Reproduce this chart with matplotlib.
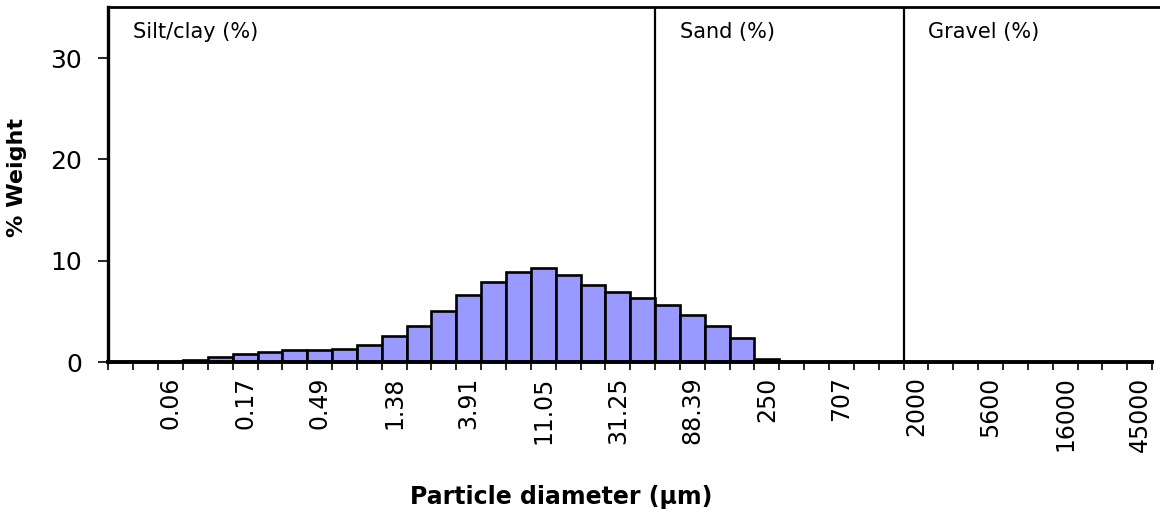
import numpy as np
import matplotlib
matplotlib.use('Agg')
import matplotlib.pyplot as plt
from matplotlib.ticker import FixedLocator, NullFormatter, FixedFormatter

# 粒径分布数据（每个柱子为半个phi区间）
weights = [0, 0, 0, 0.2, 0.5, 0.8, 1.0, 1.2, 1.2, 1.3,
           1.7, 2.6, 3.6, 5.1, 6.6, 7.9, 8.9, 9.3, 8.6, 7.6,
           6.9, 6.4, 5.7, 4.7, 3.6, 2.4, 0.35, 0, 0, 0,
           0.1, 0, 0, 0, 0, 0, 0, 0, 0, 0,
           0, 0]
size_labels = ['0.06', '0.17', '0.49', '1.38', '3.91', '11.05', '31.25',
               '88.39', '250', '707', '2000', '5600', '16000', '45000']
label_bins = [2, 5, 8, 11, 14, 17, 20, 23, 26, 29, 32, 35, 38, 41]
# 分区边界（柱子序号）
class_edges = [22, 32]
class_names = ['Silt/clay (%)', 'Sand (%)', 'Gravel (%)']
class_starts = [0, 22, 32]

plt.rcParams['font.family'] = ['DejaVu Sans']

fig = plt.figure(figsize=(11.6, 5.22), dpi=100)
ax = fig.add_axes([0.0935, 0.3056, 0.9065, 0.6805])

n = len(weights)
ax.bar(np.arange(n), weights, width=1.0, align='edge',
       color='#9999ff', edgecolor='black', linewidth=1.9, zorder=2)

for e in class_edges:
    ax.axvline(e, color='black', linewidth=1.6, zorder=3)
for s, name in zip(class_starts, class_names):
    ax.text(s + 1.0, 32.6, name, fontsize=15, va='center', ha='left')

ax.set_xlim(0, n + 0.32)
ax.set_ylim(0, 35)

# 坐标轴样式
ax.spines['right'].set_visible(False)
ax.spines['top'].set_linewidth(2.0)
ax.spines['left'].set_linewidth(2.4)
ax.spines['bottom'].set_linewidth(2.8)
ax.spines['bottom'].set_bounds(0, n)
for sp in ax.spines.values():
    sp.set_zorder(4)

ax.set_yticks([0, 10, 20, 30])
ax.tick_params(axis='y', direction='out', length=7, width=1.2,
               pad=12, labelsize=18)

ax.xaxis.set_major_locator(FixedLocator(np.arange(n + 1)))
ax.xaxis.set_major_formatter(NullFormatter())
ax.xaxis.set_minor_locator(FixedLocator([b + 0.5 for b in label_bins]))
ax.xaxis.set_minor_formatter(FixedFormatter(size_labels))
ax.tick_params(axis='x', which='major', direction='out', length=5.5, width=1.2)
ax.tick_params(axis='x', which='minor', length=0, pad=10,
               labelsize=17, labelrotation=90)

ax.set_ylabel('% Weight', fontsize=16, fontweight='bold')
ax.yaxis.set_label_coords(-0.0775, 0.52)
ax.set_xlabel('Particle diameter (\u00b5m)', fontsize=17, fontweight='bold',
              va='center')
ax.xaxis.set_label_coords(0.431, -0.379)

fig.savefig('out.png', dpi=100)
